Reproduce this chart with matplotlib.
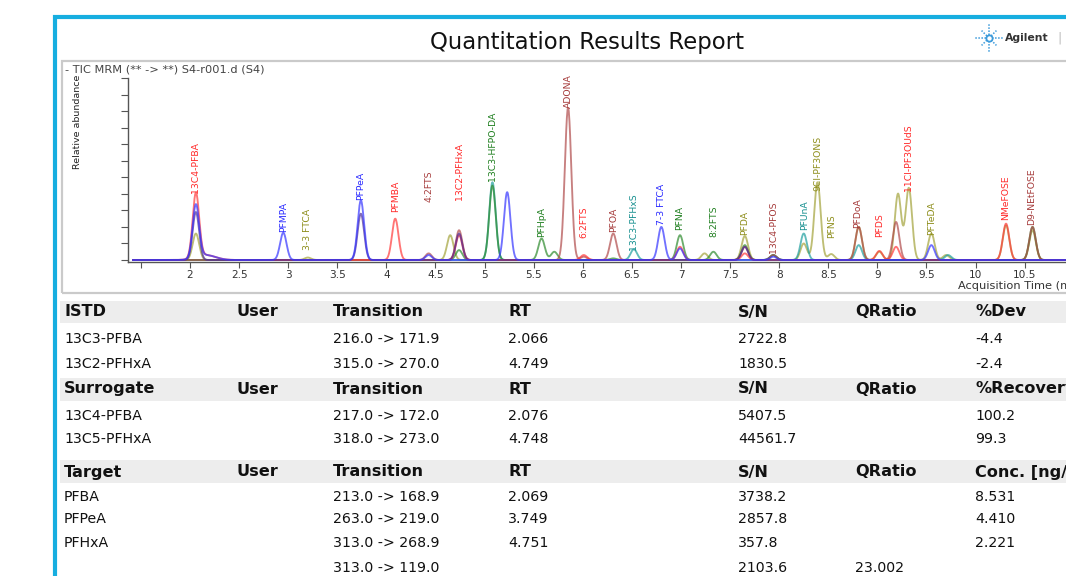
import numpy as np
import matplotlib
matplotlib.use("Agg")
import matplotlib.pyplot as plt
from matplotlib.patches import Rectangle
from matplotlib import font_manager

W, H = 1066, 576

# ---------------- data ----------------
tick_values = [1.5, 2, 2.5, 3, 3.5, 4, 4.5, 5, 5.5, 6, 6.5, 7, 7.5, 8, 8.5, 9, 9.5, 10, 10.5]
tick_labels = ["", "2", "2.5", "3", "3.5", "4", "4.5", "5", "5.5", "6", "6.5", "7", "7.5", "8",
               "8.5", "9", "9.5", "10", "10.5"]

red_rt = [2.06, 2.16, 4.09, 4.74, 6.01, 6.99, 7.65, 9.02, 9.19, 10.31]
red_h = [39, 3, 25, 15, 3, 8, 4, 5.5, 8, 22]
blue_rt = [2.06, 2.16, 2.95, 3.74, 4.43, 5.23, 6.80, 6.99, 7.94, 9.55]
blue_h = [32, 3, 16.5, 36, 3, 41, 20, 7, 2, 9]
navy_rt = [2.06, 3.74, 4.74, 7.65]
navy_h = [29, 28, 16, 8]
olive_rt = [2.06, 3.20, 4.65, 7.24, 7.65, 8.25, 8.39, 8.53, 8.81, 9.02, 9.21, 9.32, 9.55, 9.70, 10.31, 10.58]
olive_h = [16, 1.5, 15, 4, 14.5, 10, 47, 3.6, 20, 5, 40, 43.5, 16, 3, 21, 18]
green_rt = [4.74, 5.08, 5.58, 5.71, 6.31, 6.99, 7.33, 7.65, 7.94, 10.58]
green_h = [6, 45, 13, 5, 1, 15, 5, 9, 3, 20]
teal_rt = [5.08, 6.52, 7.94, 8.25, 8.81, 9.72]
teal_h = [47, 6.5, 3, 16, 9, 3]
brown_rt = [4.43, 4.74, 5.85, 6.01, 6.31, 7.65, 7.94, 8.81, 9.19, 10.58]
brown_h = [4, 18, 92, 2, 16, 8, 3, 20, 23, 20]

peak_names = ["13C4-PFBA", "PFMPA", "3-3 FTCA", "PFPeA", "PFMBA", "4:2FTS", "13C2-PFHxA",
              "13C3-HFPO-DA", "PFHpA", "ADONA", "6:2FTS", "PFOA", "13C3-PFHxS", "7-3 FTCA",
              "PFNA", "8:2FTS", "PFDA", "13C4-PFOS", "PFUnA", "9Cl-PF3ONS", "PFNS", "PFDoA",
              "PFDS", "11Cl-PF3OUdS", "PFTeDA", "NMeFOSE", "D9-NEtFOSE"]
peak_label_rt = [2.06, 2.95, 3.20, 3.74, 4.09, 4.43, 4.74, 5.08, 5.58, 5.85, 6.01, 6.31, 6.52,
                 6.80, 6.99, 7.33, 7.65, 7.94, 8.26, 8.39, 8.53, 8.80, 9.02, 9.32, 9.55, 10.31,
                 10.57]
peak_label_y = [40.5, 17, 6, 36.5, 29, 35, 36, 48, 14, 92, 13.3, 17, 6, 21, 18, 14, 15, 4.2,
                18, 42, 13.3, 19.3, 14, 42, 15, 24, 21]
peak_label_color = ["red", "blue", "olive", "blue", "red", "brown", "red", "green", "green",
                    "brown", "red", "brown", "teal", "blue", "green", "green", "olive", "brown",
                    "teal", "olive", "olive", "brown", "red", "red", "olive", "red", "brown"]

table_sections = [
    ("ISTD", "%Dev",
     [["13C3-PFBA", "", "216.0 -> 171.9", "2.066", "2722.8", "", "-4.4"],
      ["13C2-PFHxA", "", "315.0 -> 270.0", "4.749", "1830.5", "", "-2.4"]]),
    ("Surrogate", "%Recovery",
     [["13C4-PFBA", "", "217.0 -> 172.0", "2.076", "5407.5", "", "100.2"],
      ["13C5-PFHxA", "", "318.0 -> 273.0", "4.748", "44561.7", "", "99.3"]]),
    ("Target", "Conc. [ng/mL]",
     [["PFBA", "", "213.0 -> 168.9", "2.069", "3738.2", "", "8.531"],
      ["PFPeA", "", "263.0 -> 219.0", "3.749", "2857.8", "", "4.410"],
      ["PFHxA", "", "313.0 -> 268.9", "4.751", "357.8", "", "2.221"],
      ["", "", "313.0 -> 119.0", "", "2103.6", "23.002", ""]]),
]
header_cols = ["User", "Transition", "RT", "S/N", "QRatio"]

# ---------------- styles ----------------
palette = {"red": "#FF3A3A", "blue": "#3535FF", "navy": "#4B2C9A", "olive": "#A3A33A",
           "green": "#2E8B2E", "teal": "#1E9E9E", "brown": "#B04A4A"}
label_palette = {"red": "#FF2A2A", "blue": "#2A2AFF", "olive": "#8E8E1C", "green": "#1F7F1F",
                 "teal": "#168F8F", "brown": "#A53A3A"}

names = {f.name for f in font_manager.fontManager.ttflist}
narrow = "Liberation Sans Narrow" if "Liberation Sans Narrow" in names else "DejaVu Sans"

fig = plt.figure(figsize=(W / 100, H / 100), dpi=100)
fig.patch.set_facecolor("white")


def fx(x):
    return x / W


def fy(y):
    return 1 - y / H


def rect(x0, y0, x1, y1, **kw):
    fig.patches.append(Rectangle((fx(x0), fy(y1)), fx(x1) - fx(x0), fy(y0) - fy(y1),
                                 transform=fig.transFigure, **kw))


# frame
rect(55, 17, 1070, 600, facecolor="none", edgecolor="#17AEE0", linewidth=3)
rect(62, 61, 1080, 293, facecolor="none", edgecolor="#CACACA", linewidth=1.6)

fig.text(fx(587), fy(42), "Quantitation Results Report", ha="center", va="center",
         fontsize=16.4, color="#111111")

# Agilent logo
lax = fig.add_axes([fx(974), fy(53), fx(30), 30 / H])
lax.set_xlim(-1, 1)
lax.set_ylim(-1, 1)
lax.axis("off")
for ang in np.arange(0, 360, 45):
    a = np.deg2rad(ang)
    r = 0.95 if ang % 90 == 0 else 0.7
    lax.plot([0.2 * np.cos(a), r * np.cos(a)], [0.2 * np.sin(a), r * np.sin(a)],
             color="#3D9BDB", lw=1.1, linestyle=(0, (1, 1)))
lax.plot([0], [0], marker="o", ms=4.5, mfc="white", mec="#3D9BDB", mew=1.3)
fig.text(fx(1005), fy(38), "Agilent", ha="left", va="center", fontsize=7.8,
         fontweight="bold", color="#333333")
fig.text(fx(1057), fy(38), "|", ha="left", va="center", fontsize=9, color="#BBBBBB")

# chromatogram
ax = fig.add_axes([fx(128), fy(262), (1100 - 128) / W, 184 / H])
ax.set_xlim(1.3686, 11.267)
ax.set_ylim(-1.2, 110)
t = np.linspace(1.42, 11.3, 3000)
sigma = 0.033
for key, rts, hs in [("olive", olive_rt, olive_h), ("teal", teal_rt, teal_h),
                     ("green", green_rt, green_h), ("brown", brown_rt, brown_h),
                     ("red", red_rt, red_h), ("navy", navy_rt, navy_h),
                     ("blue", blue_rt, blue_h)]:
    y = np.zeros_like(t)
    for rt, h in zip(rts, hs):
        s = sigma * (3 if (rt == 2.16) else 1)
        y += h * np.exp(-0.5 * ((t - rt) / s) ** 2)
    ax.plot(t, y, color=palette[key], lw=1.35, alpha=0.7)

for name, rt, yv, c in zip(peak_names, peak_label_rt, peak_label_y, peak_label_color):
    ax.text(rt, yv, name, rotation=90, ha="center", va="bottom", fontsize=6.7,
            family=narrow, color=label_palette[c])

for s in ["top", "right"]:
    ax.spines[s].set_visible(False)
for s in ["left", "bottom"]:
    ax.spines[s].set_color("#555555")
    ax.spines[s].set_linewidth(1.0)
ax.set_yticks(np.arange(0, 111, 10))
ax.set_yticklabels([])
ax.tick_params(axis="y", length=5, color="#555555")
ax.set_xticks(tick_values)
ax.set_xticklabels(tick_labels)
ax.tick_params(axis="x", length=4, color="#555555", labelsize=7.6, labelcolor="#333333", pad=2)
ax.patch.set_alpha(0)

fig.text(fx(65), fy(70), "- TIC MRM (** -> **) S4-r001.d (S4)", ha="left", va="center",
         fontsize=8.2, color="#444444")
fig.text(fx(77), fy(122), "Relative abundance", rotation=90, ha="center", va="center",
         fontsize=6.8, family=narrow, color="#222222")
fig.text(fx(958), fy(286), "Acquisition Time (min)", ha="left", va="center", fontsize=8.2,
         color="#333333")

# table
col_x = [64, 236, 333, 508, 738, 855, 975]
header_y = [312, 389, 472]
row_y = [[339, 364], [416, 439], [497, 519, 543, 568]]
band_y = [(301, 323), (378, 401), (460, 483)]
for (title, last, rows), hy, ry, (b0, b1) in zip(table_sections, header_y, row_y, band_y):
    rect(60, b0, 1080, b1, facecolor="#EDEDED", edgecolor="none")
    heads = [title] + header_cols + [last]
    for x, txt in zip(col_x, heads):
        fig.text(fx(x), fy(hy), txt, ha="left", va="center", fontsize=11.6,
                 fontweight="bold", color="#111111")
    for row, yy in zip(rows, ry):
        for x, txt in zip(col_x, row):
            if txt:
                fig.text(fx(x), fy(yy), txt, ha="left", va="center", fontsize=10.2,
                         color="#111111")

fig.savefig("out.png", dpi=100)
